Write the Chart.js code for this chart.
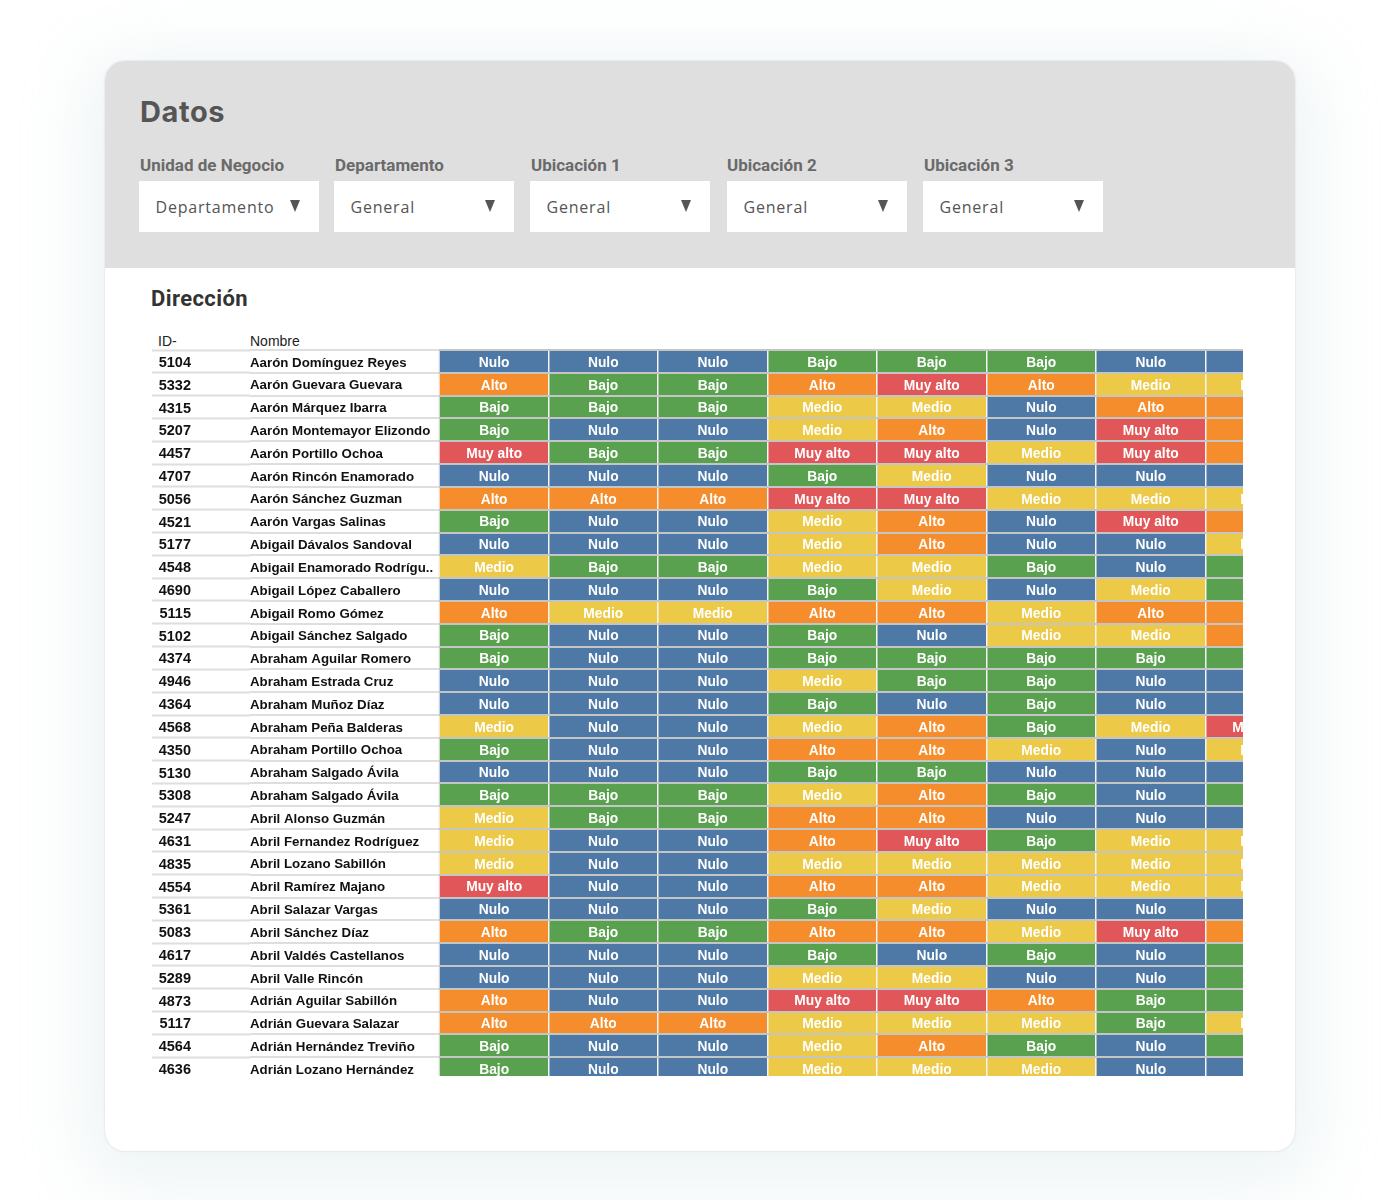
<!DOCTYPE html>
<html lang="es">
  <head>
    <meta charset="UTF-8" />
    <title>Datos</title>
    <script src="https://cdn.jsdelivr.net/npm/chart.js@4/dist/chart.umd.min.js"></script>
    <style>
      html, body { margin: 0; padding: 0; background: #fff; }
      body { width: 1400px; height: 1200px; position: relative; overflow: hidden; }
      .card {
        position: absolute; left: 105px; top: 61px; width: 1190px; height: 1090px;
        background: #fff; border-radius: 20px;
        box-shadow: 0 0 2px rgba(120,140,150,.35), 0 14px 70px 16px rgba(175,205,210,.24);
      }
      .top {
        position: absolute; left: 0; top: 0; width: 1190px; height: 207px;
        background: #dfdfdf; border-radius: 20px 20px 0 0;
      }
      h1 {
        position: absolute; left: 35px; top: 33px; margin: 0;
        font: 700 29px/36px Inter, sans-serif; color: #555; letter-spacing: 0.6px;
      }
      .label {
        position: absolute; top: 93px;
        font: 700 17px/22px Roboto, sans-serif; color: #6a6a6a;
        white-space: nowrap;
      }
      .box {
        position: absolute; top: 120px; width: 180px; height: 51px; background: #fff;
        font: 400 16px/52px "Open Sans", sans-serif; color: #555; letter-spacing: 0.8px;
      }
      .box span { position: absolute; left: 16.5px; white-space: nowrap; }
      .box i {
        position: absolute; right: 19px; top: 19px; width: 0; height: 0;
        border-left: 5.5px solid transparent; border-right: 5.5px solid transparent;
        border-top: 12px solid #555;
      }
      h2 {
        position: absolute; left: 46px; top: 224px; margin: 0;
        font: 700 22px/28px Roboto, sans-serif; color: #333; letter-spacing: 0.4px;
      }
      .head { position: absolute; top: 271px; font: 400 14px/18px "Liberation Sans", sans-serif; color: #222; }
      .tabla { position: absolute; left: 47px; top: 288px; width: 1091px; height: 727px; overflow: hidden; }
      canvas { display: block; }
    </style>
  </head>

  <body>
    <div class="card">
      <div class="top">
        <h1>Datos</h1>
        <div class="label" style="left: 35px">Unidad de Negocio</div>
        <div class="label" style="left: 230px">Departamento</div>
        <div class="label" style="left: 426px">Ubicación 1</div>
        <div class="label" style="left: 622px">Ubicación 2</div>
        <div class="label" style="left: 819px">Ubicación 3</div>
        <div class="box" style="left: 34px"><span>Departamento</span><i></i></div>
        <div class="box" style="left: 229px"><span>General</span><i></i></div>
        <div class="box" style="left: 425px"><span>General</span><i></i></div>
        <div class="box" style="left: 622px"><span>General</span><i></i></div>
        <div class="box" style="left: 818px"><span>General</span><i></i></div>
      </div>
      <h2>Dirección</h2>
      <div class="head" style="left: 53px">ID-</div>
      <div class="head" style="left: 145px">Nombre</div>
      <div class="tabla"><canvas id="matriz" width="1163" height="732"></canvas></div>
    </div>

    <script>
      const N = "Nulo", B = "Bajo", M = "Medio", A = "Alto", X = "Muy alto";

      const ids = [5104, 5332, 4315, 5207, 4457, 4707, 5056, 4521, 5177, 4548, 4690, 5115, 5102, 4374, 4946, 4364,
        4568, 4350, 5130, 5308, 5247, 4631, 4835, 4554, 5361, 5083, 4617, 5289, 4873, 5117, 4564, 4636];

      const nombres = ["Aarón Domínguez Reyes", "Aarón Guevara Guevara", "Aarón Márquez Ibarra",
        "Aarón Montemayor Elizondo", "Aarón Portillo Ochoa", "Aarón Rincón Enamorado", "Aarón Sánchez Guzman",
        "Aarón Vargas Salinas", "Abigail Dávalos Sandoval", "Abigail Enamorado Rodrígu..", "Abigail López Caballero",
        "Abigail Romo Gómez", "Abigail Sánchez Salgado", "Abraham Aguilar Romero", "Abraham Estrada Cruz",
        "Abraham Muñoz Díaz", "Abraham Peña Balderas", "Abraham Portillo Ochoa", "Abraham Salgado Ávila",
        "Abraham Salgado Ávila", "Abril Alonso Guzmán", "Abril Fernandez Rodríguez", "Abril Lozano Sabillón",
        "Abril Ramírez Majano", "Abril Salazar Vargas", "Abril Sánchez Díaz", "Abril Valdés Castellanos",
        "Abril Valle Rincón", "Adrián Aguilar Sabillón", "Adrián Guevara Salazar", "Adrián Hernández Treviño",
        "Adrián Lozano Hernández"];

      const col1 = [N, A, B, B, X, N, A, B, N, M, N, A, B, B, N, N, M, B, N, B, M, M, M, X, N, A, N, N, A, A, B, B];
      const col2 = [N, B, B, N, B, N, A, N, N, B, N, M, N, N, N, N, N, N, N, B, B, N, N, N, N, B, N, N, N, A, N, N];
      const col3 = [N, B, B, N, B, N, A, N, N, B, N, M, N, N, N, N, N, N, N, B, B, N, N, N, N, B, N, N, N, A, N, N];
      const col4 = [B, A, M, M, X, B, X, M, M, M, B, A, B, B, M, B, M, A, B, M, A, A, M, A, B, A, B, M, X, M, M, M];
      const col5 = [B, X, M, A, X, M, X, A, A, M, M, A, N, B, B, N, A, A, B, A, A, X, M, A, M, A, N, M, X, M, A, M];
      const col6 = [B, A, N, N, M, N, M, N, N, B, N, M, M, B, B, B, B, M, N, B, N, B, M, M, N, M, B, N, A, M, B, M];
      const col7 = [N, M, A, X, X, N, M, X, N, N, M, A, M, B, N, N, M, N, N, N, N, M, M, M, N, X, N, N, B, B, N, N];
      const col8 = [N, M, A, A, A, N, M, A, M, B, B, A, A, B, N, N, X, M, N, B, N, M, M, M, N, A, B, B, B, M, B, N];

      const columnas = [col1, col2, col3, col4, col5, col6, col7, col8];

      const coloresNivel = {
        [N]: "#4e79a7",
        [B]: "#59a14f",
        [M]: "#edc948",
        [A]: "#f58d2c",
        [X]: "#e15759",
      };

      const fuenteCelda = { family: "'Liberation Sans', sans-serif", size: 13.8, weight: "bold" };

      // baja un poco las etiquetas de los ejes, que se pintan antes que las barras
      const bajarEtiquetas = {
        id: "bajarEtiquetas",
        beforeDraw(chart) {
          chart.ctx.save();
          chart.ctx.translate(0, 1.5);
        },
        beforeDatasetsDraw(chart) {
          chart.ctx.restore();
        },
      };

      // escribe el nivel en el centro de cada celda
      const textoCeldas = {
        id: "textoCeldas",
        afterDraw(chart) {
          const ctx = chart.ctx;
          ctx.save();
          ctx.font = Chart.helpers.toFontString(fuenteCelda);
          ctx.fillStyle = "#fff";
          ctx.textAlign = "center";
          ctx.textBaseline = "middle";
          columnas.forEach((col, c) => {
            chart.getDatasetMeta(c).data.forEach((bar, i) => {
              const p = bar.getCenterPoint();
              ctx.fillText(col[i], p.x, p.y + 1.5);
            });
          });
          ctx.restore();
        },
      };

      new Chart("matriz", {
        type: "bar",
        data: {
          labels: nombres,
          datasets: columnas.map((col) => ({
            data: col.map(() => 1),
            backgroundColor: col.map((nivel) => coloresNivel[nivel]),
            barPercentage: 1,
            categoryPercentage: 1,
          })),
        },
        options: {
          indexAxis: "y",
          responsive: false,
          animation: false,
          layout: { autoPadding: false, padding: { top: 1, bottom: 1 } },
          plugins: { legend: { display: false }, tooltip: { enabled: false } },
          scales: {
            x: {
              stacked: true,
              min: 0,
              max: 8,
              ticks: { display: false, stepSize: 1 },
              border: { display: false },
              grid: { color: "#f4f4f4", lineWidth: 1.5, drawTicks: false, z: 1 },
            },
            y: {
              stacked: true,
              weight: 0,
              afterFit(scale) {
                scale.width = 189;
                scale.paddingTop = 0;
                scale.paddingBottom = 0;
              },
              ticks: {
                autoSkip: false,
                crossAlign: "far",
                color: "#111",
                font: { family: "'Liberation Sans', sans-serif", size: 13.3, weight: "bold" },
              },
              border: { display: false },
              grid: {
                offset: true,
                color: "#c4c6c6",
                lineWidth: 2,
                tickColor: "#dedede",
                tickWidth: 2,
                tickLength: 189,
                z: 1,
              },
            },
            y2: {
              type: "category",
              labels: ids.map(String),
              position: "left",
              weight: 1,
              afterFit(scale) {
                scale.width = 98;
                scale.paddingTop = 0;
                scale.paddingBottom = 0;
              },
              ticks: {
                autoSkip: false,
                padding: -39,
                color: "#111",
                font: { family: "'Liberation Sans', sans-serif", size: 14.5, weight: "bold" },
              },
              border: { display: false },
              grid: {
                offset: true,
                drawOnChartArea: false,
                tickColor: "#dedede",
                tickWidth: 2,
                tickLength: 98,
                z: 1,
              },
            },
          },
        },
        plugins: [bajarEtiquetas, textoCeldas],
      });
    </script>
  </body>
</html>
